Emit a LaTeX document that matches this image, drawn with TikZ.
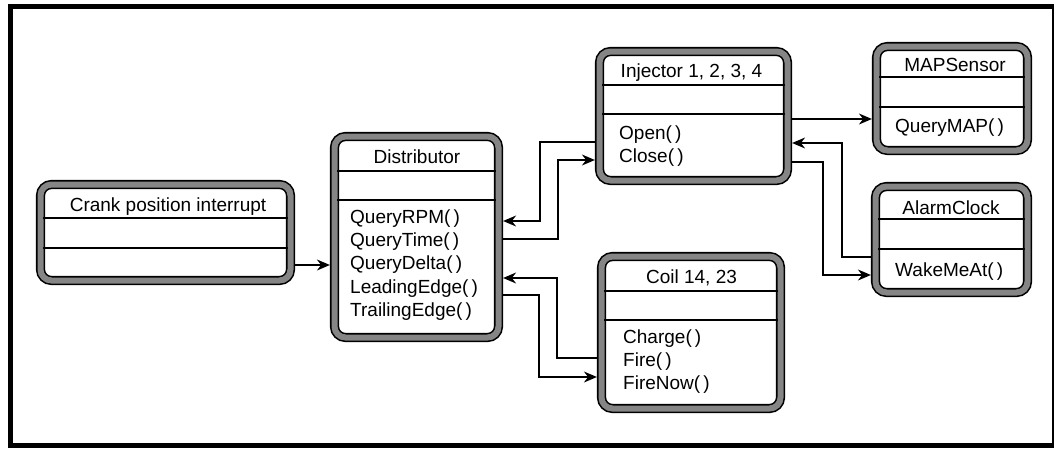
\documentclass[tikz,border=0pt]{standalone}
\usepackage{fontspec}
\setmainfont{Liberation Sans}
\usetikzlibrary{arrows.meta}
\begin{document}
\begin{tikzpicture}[x=1pt,y=-1pt,
  cls/.style={draw=black, line width=1.6pt, double=black!48, double distance=6pt, fill=white, rounded corners=11pt, inner sep=0pt, outer sep=4.6pt},
  ttl/.style={font=\fontsize{19}{23}\selectfont, inner sep=0pt, anchor=base},
  mth/.style={font=\fontsize{19}{23.3}\selectfont, inner sep=0pt, anchor=base west, align=left},
  sep/.style={line width=1.2pt},
  conn/.style={line width=1.3pt, -{Stealth[length=13pt,width=11pt]}},
  frame/.style={line width=5pt},
  ]
\useasboundingbox (0,0) rectangle (1056,450);
% outer frame
\draw[frame] (8,6.5) -- (1054,6.5);
\draw[frame] (10.5,4) -- (10.5,448);
\draw[frame] (8,445.5) -- (1054,445.5);
\draw[line width=1.5pt] (1053,4) -- (1053,448);

% class boxes
\node[cls, minimum width=250pt, minimum height=96pt] (crank) at (165.5,232.5) {};
\node[cls, minimum width=164pt, minimum height=201pt] (dist) at (416.5,237) {};
\node[cls, minimum width=188pt, minimum height=129pt] (inj) at (693.5,116) {};
\node[cls, minimum width=151pt, minimum height=104pt] (map) at (952,98.5) {};
\node[cls, minimum width=152pt, minimum height=106pt] (alarm) at (951.5,239.5) {};
\node[cls, minimum width=179pt, minimum height=152pt] (coil) at (691,332.5) {};

% compartments
\draw[sep] (43,218) -- (288,218) (43,248) -- (288,248);
\draw[sep] (337,171) -- (496,171) (337,200) -- (496,200);
\draw[sep] (602,85) -- (785,85) (602,114) -- (785,114);
\draw[sep] (879,77) -- (1025,77) (879,107) -- (1025,107);
\draw[sep] (878,219) -- (1025,219) (878,249) -- (1025,249);
\draw[sep] (604,291) -- (778,291) (604,320) -- (778,320);

% titles
\node[ttl] (crankT) at (168,211.7) {Crank position interrupt};
\node[ttl] (distT) at (417,163.3) {Distributor};
\node[ttl] (injT) at (691.5,77.3) {Injector 1, 2, 3, 4};
\node[ttl] (mapT) at (955,71.7) {MAPSensor};
\node[ttl] (alarmT) at (951,214) {AlarmClock};
\node[ttl] (coilT) at (691.5,283.3) {Coil 14, 23};

% methods (anchor on the baseline of the last line)
\node[mth] (distM) at (350,316.5) {QueryRPM(\,)\\QueryTime(\,)\\QueryDelta(\,)\\LeadingEdge(\,)\\TrailingEdge(\,)};
\node[mth] (injM) at (619,162.5) {Open(\,)\\Close(\,)};
\node[mth] (coilM) at (623,389.6) {Charge(\,)\\Fire(\,)\\FireNow(\,)};
\node[mth] (mapM) at (895,132) {QueryMAP(\,)};
\node[mth] (alarmM) at (895,276) {WakeMeAt(\,)};

% connectors
\draw[conn] (crank.east |- 0,265) -- (dist.west |- 0,265);
\draw[conn] (inj.west |- 0,142) -- (540,142) -- (540,221) -- (dist.east |- 0,221);
\draw[conn] (dist.east |- 0,239) -- (558,239) -- (558,160) -- (inj.west |- 0,160);
\draw[conn] (coil.west |- 0,358) -- (557,358) -- (557,278) -- (dist.east |- 0,278);
\draw[conn] (dist.east |- 0,295) -- (539,295) -- (539,377) -- (coil.west |- 0,377);
\draw[conn] (inj.east |- 0,119) -- (map.west |- 0,119);
\draw[conn] (alarm.west |- 0,257) -- (842,257) -- (842,143) -- (inj.east |- 0,143);
\draw[conn] (inj.east |- 0,162) -- (823,162) -- (823,275) -- (alarm.west |- 0,275);
\end{tikzpicture}
\end{document}
